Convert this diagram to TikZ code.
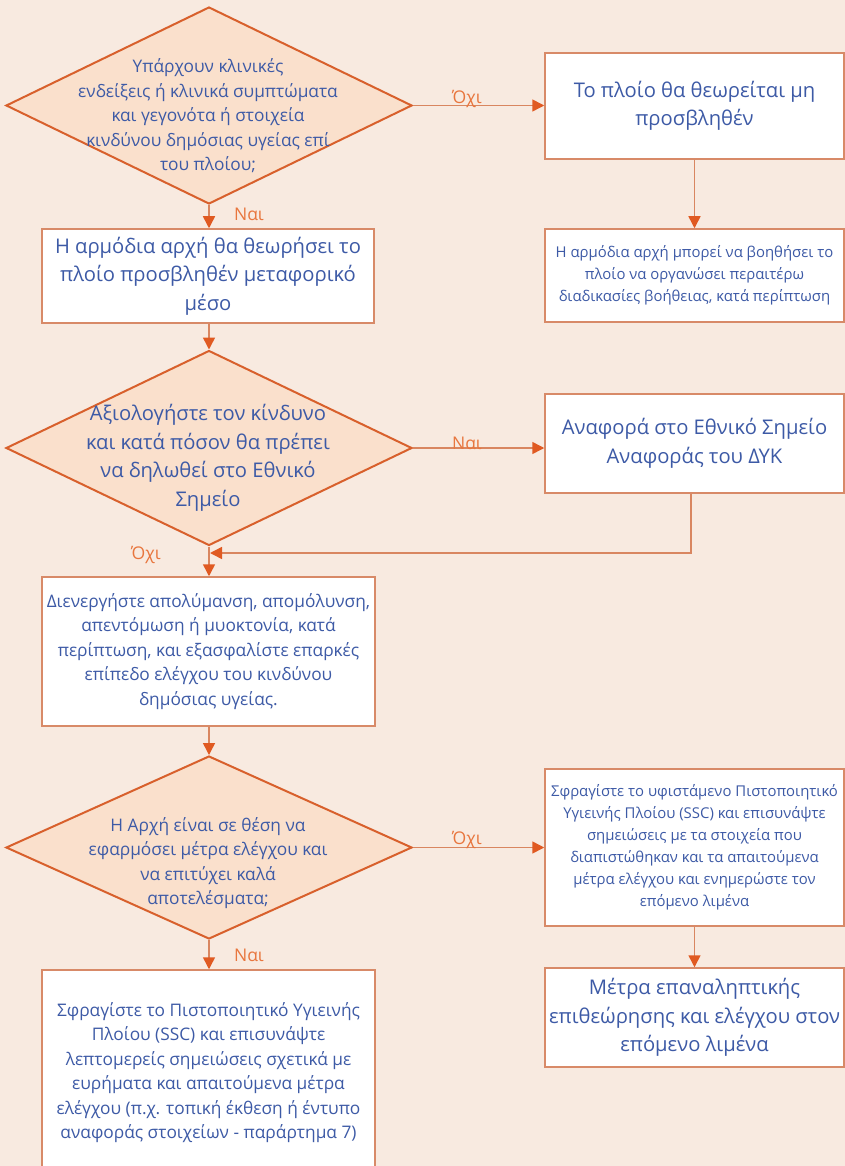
\documentclass[tikz,border=0pt]{standalone}
\usepackage{fontspec}
\setmainfont{Open Sans}
\usetikzlibrary{shapes.geometric,arrows.meta,positioning}
\definecolor{bgpeach}{HTML}{F8EAE0}
\definecolor{diamfill}{HTML}{FAE0CC}
\definecolor{diamline}{HTML}{D8602C}
\definecolor{boxline}{HTML}{D88A68}
\definecolor{arrline}{HTML}{D98660}
\definecolor{arrhead}{HTML}{E05A22}
\definecolor{txtblue}{HTML}{3D5AA6}
\definecolor{lblorange}{HTML}{E8763E}

\tikzset{
    bigtxt/.style={font=\fontsize{20.2}{28.5}\selectfont},
    midtxt/.style={font=\fontsize{17.3}{24.5}\selectfont},
    smalltxt/.style={font=\fontsize{14.9}{22}\selectfont},
    box/.style={draw=boxline, line width=1.5pt, fill=white, inner sep=0pt, align=center, text=txtblue},
    decision/.style={diamond, draw=diamline, line width=2pt, fill=diamfill, inner sep=0pt},
    qtext/.style={align=center, text=txtblue},
    flow/.style={draw=arrline, line width=1.5pt, -{Triangle[length=12pt,width=12pt,color=arrhead]}},
    lbl/.style={text=lblorange, font=\fontsize{17.5}{20}\selectfont}
}

\begin{document}
\begin{tikzpicture}[x=1pt,y=-1pt]
    % page
    \fill[bgpeach] (0,0) rectangle (845,1166);
    \useasboundingbox (0,0) rectangle (845,1166);

    % Decision 1
    \node[decision, minimum width=406pt, minimum height=197pt] (q1) at (209,105.5) {};
    \node[qtext, midtxt] (q1t) at (208,116) {Υπάρχουν κλινικές\\ενδείξεις ή κλινικά συμπτώματα\\και γεγονότα ή στοιχεία\\κινδύνου δημόσιας υγείας επί\\του πλοίου;};

    % Right column, top
    \node[box, bigtxt, minimum width=299pt, minimum height=106pt] (unaff) at (694.5,106) {Το πλοίο θα θεωρείται μη\\προσβληθέν};
    \node[box, smalltxt, minimum width=299pt, minimum height=93pt] (assist) at (694.5,275.5) {Η αρμόδια αρχή μπορεί να βοηθήσει το\\πλοίο να οργανώσει περαιτέρω\\διαδικασίες βοήθειας, κατά περίπτωση};

    % Affected ship
    \node[box, bigtxt, minimum width=332pt, minimum height=94pt] (affect) at (208,276) {Η αρμόδια αρχή θα θεωρήσει το\\πλοίο προσβληθέν μεταφορικό\\μέσο};

    % Decision 2
    \node[decision, minimum width=406pt, minimum height=195pt] (q2) at (209,448) {};
    \node[qtext, bigtxt] (q2t) at (208,458) {Αξιολογήστε τον κίνδυνο\\και κατά πόσον θα πρέπει\\να δηλωθεί στο Εθνικό\\Σημείο};

    \node[box, bigtxt, minimum width=299pt, minimum height=99pt] (nfp) at (694.5,443.5) {Αναφορά στο Εθνικό Σημείο\\Αναφοράς του ΔΥΚ};

    % Measures
    \node[box, midtxt, minimum width=333pt, minimum height=149pt] (disinf) at (208.5,651.5) {Διενεργήστε απολύμανση, απομόλυνση,\\απεντόμωση ή μυοκτονία, κατά\\περίπτωση, και εξασφαλίστε επαρκές\\επίπεδο ελέγχου του κινδύνου\\δημόσιας υγείας.};

    % Decision 3
    \node[decision, minimum width=406pt, minimum height=183pt] (q3) at (209,847.5) {};
    \node[qtext, midtxt] (q3t) at (208,863) {Η Αρχή είναι σε θέση να\\εφαρμόσει μέτρα ελέγχου και\\να επιτύχει καλά\\αποτελέσματα;};

    \node[box, smalltxt, minimum width=299pt, minimum height=157pt] (sscnote) at (694.5,847.5) {Σφραγίστε το υφιστάμενο Πιστοποιητικό\\Υγιεινής Πλοίου (SSC) και επισυνάψτε\\σημειώσεις με τα στοιχεία που\\διαπιστώθηκαν και τα απαιτούμενα\\μέτρα ελέγχου και ενημερώστε τον\\επόμενο λιμένα};
    \node[box, bigtxt, minimum width=299pt, minimum height=99pt] (reinsp) at (694.5,1017.5) {Μέτρα επαναληπτικής\\επιθεώρησης και ελέγχου στον\\επόμενο λιμένα};

    \node[box, midtxt, minimum width=333pt, minimum height=205pt] (sscok) at (208.5,1072.5) {Σφραγίστε το Πιστοποιητικό Υγιεινής\\Πλοίου (SSC) και επισυνάψτε\\λεπτομερείς σημειώσεις σχετικά με\\ευρήματα και απαιτούμενα μέτρα\\ελέγχου (π.χ. τοπική έκθεση ή έντυπο\\αναφοράς στοιχείων - παράρτημα 7)};

    % Connectors
    \draw[flow] (q1.east) -- (q1.east -| unaff.west);
    \draw[flow] (unaff.south -| assist.north) -- (assist.north);
    \draw[flow] (q1.south) -- (q1.south |- affect.north);
    \draw[flow] (affect.south -| q2.north) -- (q2.north);
    \draw[flow] (q2.east) -- (q2.east -| nfp.west);
    \draw[flow] (q2.south) -- (q2.south |- disinf.north);
    \coordinate (back) at (691,553);
    \draw[flow] (nfp.south -| back) -- (back) -- ([xshift=1pt]q2.south |- back);
    \draw[flow] (disinf.south -| q3.north) -- (q3.north);
    \draw[flow] (q3.east) -- (q3.east -| sscnote.west);
    \draw[flow] (sscnote.south) -- (reinsp.north);
    \draw[flow] (q3.south) -- (q3.south |- sscok.north);

    % Labels
    \node[lbl] (l1) at (467,99) {Όχι};
    \node[lbl] (l2) at (249,214) {Ναι};
    \node[lbl] (l3) at (467,443) {Ναι};
    \node[lbl] (l4) at (146,555) {Όχι};
    \node[lbl] (l5) at (467,840) {Όχι};
    \node[lbl] (l6) at (249,955) {Ναι};
\end{tikzpicture}
\end{document}
